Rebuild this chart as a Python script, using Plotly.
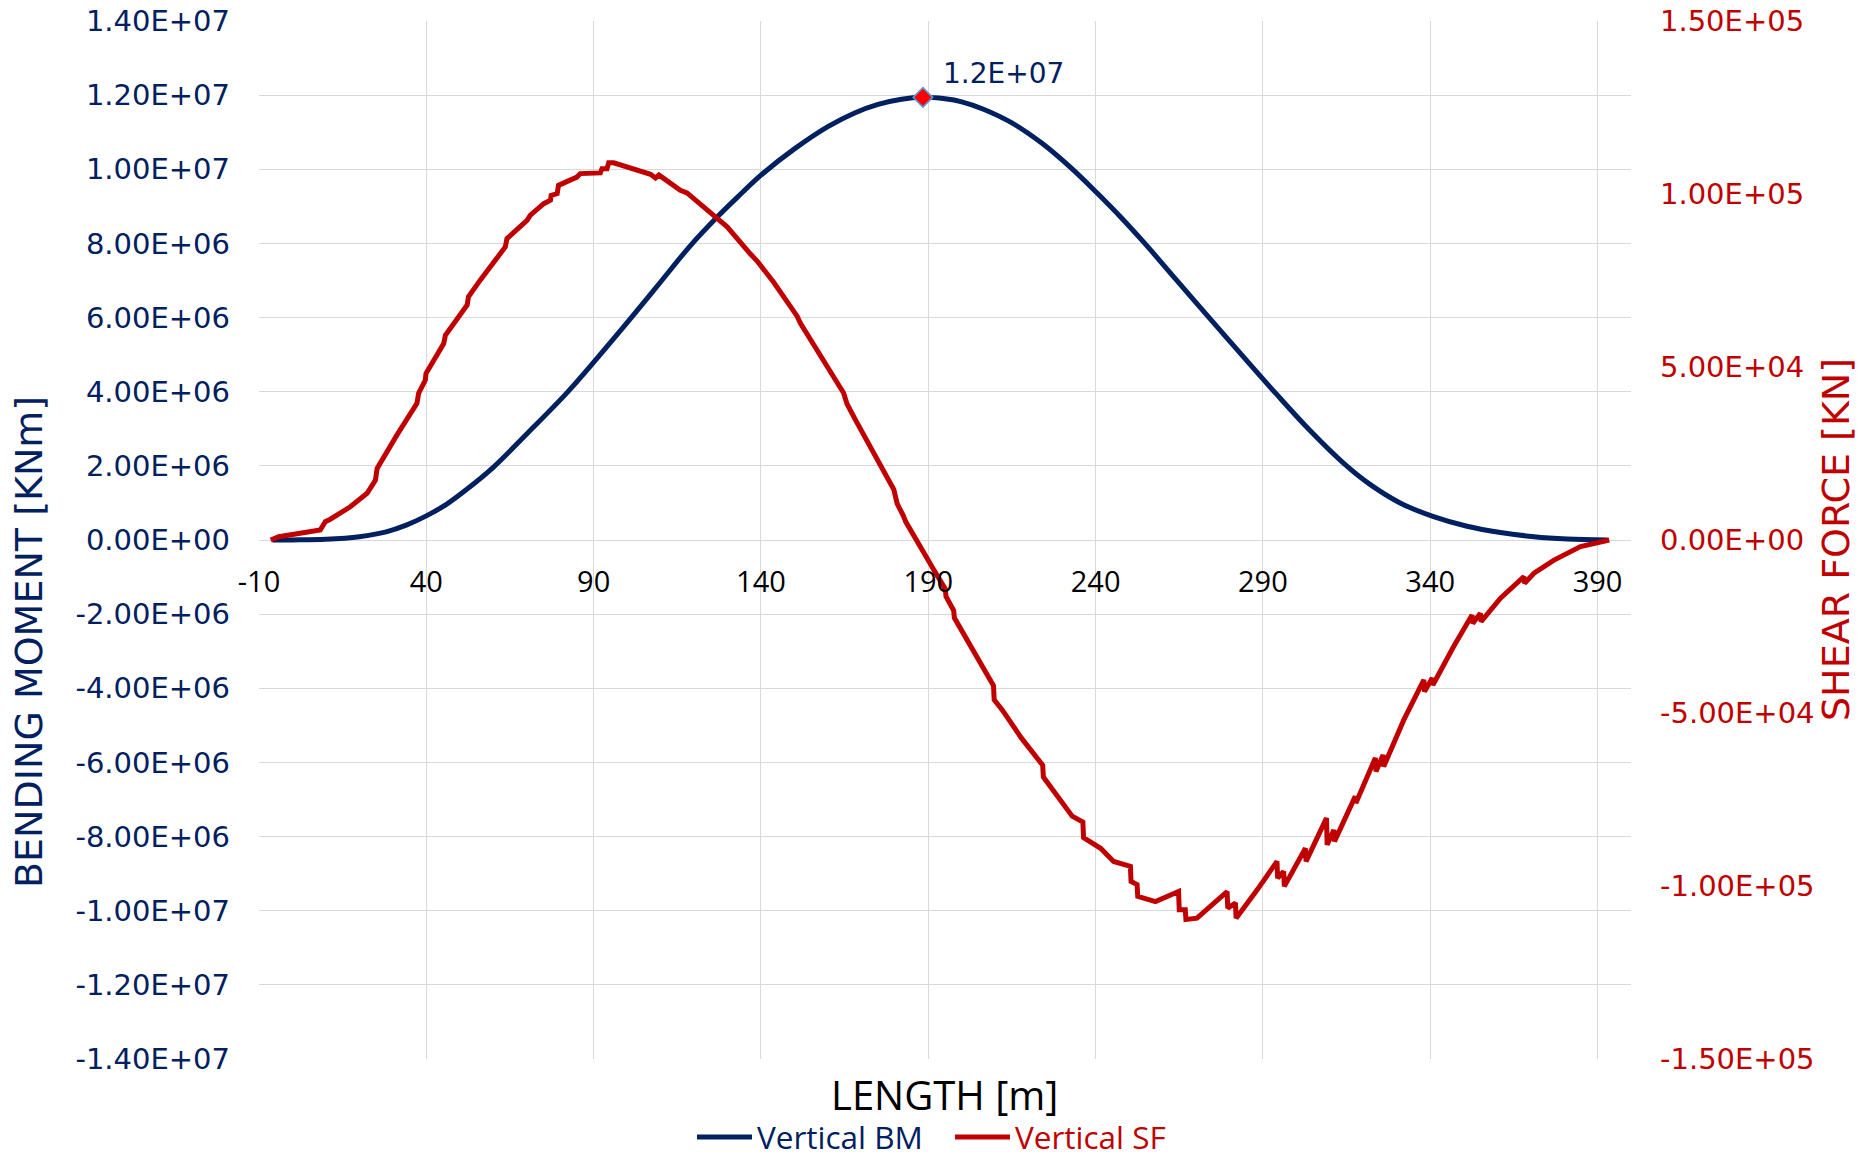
import plotly.graph_objects as go

# ---------------- data ----------------
# Vertical bending moment [kNm] along the length [m]
bm_x = [-6, 0, 10, 20, 28, 34, 40, 46, 52, 60, 70, 82, 91, 101, 110, 119, 127, 133,
        140.5, 150, 160, 168, 175, 182, 188.4, 195, 200, 206.5, 215, 224, 232.5, 240,
        247.4, 254.7, 264, 274.9, 284, 294, 304, 314.5, 322, 331, 341, 351, 361, 371,
        381, 393]
bm_y = [0, 0.003e6, 0.02e6, 0.09e6, 0.22e6, 0.4e6, 0.65e6, 0.96e6, 1.36e6, 1.96e6,
        2.86e6, 3.97e6, 4.9e6, 5.97e6, 6.96e6, 7.95e6, 8.72e6, 9.25e6, 9.88e6, 10.55e6,
        11.15e6, 11.52e6, 11.75e6, 11.89e6, 11.94e6, 11.9e6, 11.82e6, 11.62e6, 11.25e6,
        10.7e6, 10.05e6, 9.4e6, 8.72e6, 8.0e6, 7.03e6, 5.9e6, 4.96e6, 3.94e6, 2.96e6,
        2.04e6, 1.5e6, 1.0e6, 0.63e6, 0.37e6, 0.2e6, 0.09e6, 0.03e6, 0]

# Vertical shear force [kN] along the length [m]
sf_x = [-6.5, -4.1, 8.3, 9.8, 11.3, 17.3, 22.3, 24.8, 25.3, 30.7, 31.2, 37.2, 37.7,
        39.7, 39.9, 45.2, 45.7, 52.2, 52.6, 56.1, 63.6, 64.1, 70.1, 71.1, 75.1, 77.1,
        77.3, 79.1, 79.5, 85.0, 86.0, 92.0, 92.5, 94.0, 94.5, 96.0, 107.0, 108.5,
        109.5, 110.5, 115.9, 117.9, 123.9, 129.9, 136.8, 138.8, 143.8, 150.8, 151.8,
        164.7, 165.7, 168.2, 179.7, 180.7, 182.6, 183.2, 191.6, 195.1, 195.3, 197.6,
        197.8, 209.5, 209.7, 212.1, 217.8, 223.5, 224.2, 224.4, 229.5, 233.0, 236.2,
        236.4, 241.5, 245.4, 250.4, 250.6, 252.4, 252.6, 257.9, 264.8, 265.0, 266.8,
        267.0, 270.3, 279.3, 279.5, 281.8, 282.0, 288.3, 294.2, 294.4, 296.2, 296.4,
        302.7, 302.9, 309.0, 309.2, 311.2, 311.4, 317.6, 317.8, 323.6, 323.8, 325.9,
        326.1, 332.1, 338.1, 338.3, 340.6, 340.8, 347.0, 352.5, 352.7, 355.0, 355.2,
        361.0, 368.0, 368.2, 371.0, 377.0, 384.9, 393.5]
sf_y = [0, 950, 2900, 5300, 6000, 9600, 13500, 17300, 20700, 28900, 30300, 39500, 42400,
        46200, 48100, 56800, 59200, 67900, 70300, 75100, 84700, 87100, 92400, 93900,
        97200, 98200, 99600, 100100, 102500, 104900, 105900, 106100, 107300, 107300,
        109000, 109000, 105700, 104600, 105500, 104800, 101100, 100300, 95600, 90500,
        82700, 80700, 74500, 64700, 62600, 42500, 39400, 34800, 14600, 10500, 6900, 5400,
        -8500, -14200, -16300, -20400, -22500, -42100, -46200, -49100, -57200, -64400,
        -65100, -68500, -75400, -79800, -81500, -86000, -89100, -92900, -94300, -98700,
        -99600, -103000, -104500, -101600, -106900, -106900, -109700, -109300, -101600,
        -106400, -104900, -109300, -101100, -92900, -97700, -95800, -100100, -89100,
        -92900, -80400, -88100, -83800, -87100, -74100, -76000, -63000, -66900, -62100,
        -65500, -52000, -40400, -43800, -39900, -41900, -30800, -21700, -24100, -21200,
        -23600, -16800, -10600, -12500, -9600, -5800, -1900, 0]

# axis ticks
x_ticks = [-10, 40, 90, 140, 190, 240, 290, 340, 390]
bm_ticks = [-1.4e7, -1.2e7, -1.0e7, -8e6, -6e6, -4e6, -2e6, 0, 2e6, 4e6, 6e6, 8e6,
            1.0e7, 1.2e7, 1.4e7]
sf_ticks = [-1.5e5, -1.0e5, -5e4, 0, 5e4, 1.0e5, 1.5e5]
bm_tick_text = [f"{v:.2E}" for v in bm_ticks]
sf_tick_text = [f"{v:.2E}" for v in sf_ticks]

# ---------------- styling ----------------
NAVY = "#002060"
RED = "#C00000"
GRID = "#D9D9D9"
W, H = 1860, 1159
ML, MR, MT, MB = 259, 229, 21, 100
PW, PH = W - ML - MR, H - MT - MB


def px2paper_x(px):
    return (px - ML) / PW


def px2paper_y(py):
    return 1 - (py - MT) / PH


fig = go.Figure()

fig.add_trace(go.Scatter(
    x=bm_x, y=bm_y, mode="lines", yaxis="y",
    name=f"<span style='color:{NAVY}'>Vertical BM</span>",
    line=dict(color=NAVY, width=5, shape="spline", smoothing=1.0),
))
fig.add_trace(go.Scatter(
    x=sf_x, y=sf_y, mode="lines", yaxis="y2",
    name=f"<span style='color:{RED}'>Vertical SF</span>",
    line=dict(color=RED, width=5),
))

# peak marker of the bending moment
i_max = max(range(len(bm_y)), key=lambda i: bm_y[i])
fig.add_trace(go.Scatter(
    x=[bm_x[i_max]], y=[bm_y[i_max]], mode="markers", yaxis="y", showlegend=False,
    marker=dict(symbol="diamond", size=15, color="#FF0000",
                line=dict(color="#5B9BD5", width=1.5)),
))

fig.add_annotation(
    x=bm_x[i_max], y=bm_y[i_max], xref="x", yref="y",
    text=f"{bm_y[i_max]:.1E}", showarrow=False,
    xshift=81, yshift=24, xanchor="center", yanchor="middle",
    font=dict(family="DejaVu Sans", size=28, color=NAVY),
)

# axis titles
fig.add_annotation(
    x=px2paper_x(944), y=px2paper_y(1094), xref="paper", yref="paper",
    text="LENGTH [m]", showarrow=False, xanchor="center", yanchor="middle",
    font=dict(family="Open Sans", size=40, color="#000000"),
)
fig.add_annotation(
    x=px2paper_x(29), y=px2paper_y(642), xref="paper", yref="paper",
    text="BENDING MOMENT [KNm]", showarrow=False, textangle=-90,
    xanchor="center", yanchor="middle",
    font=dict(family="DejaVu Sans", size=38, color=NAVY),
)
fig.add_annotation(
    x=px2paper_x(1836), y=px2paper_y(540), xref="paper", yref="paper",
    text="SHEAR FORCE [KN]", showarrow=False, textangle=-90,
    xanchor="center", yanchor="middle",
    font=dict(family="DejaVu Sans", size=38, color=RED),
)

fig.update_layout(
    template="none",
    width=W, height=H,
    margin=dict(l=ML, r=MR, t=MT, b=MB, pad=0, autoexpand=False),
    paper_bgcolor="white", plot_bgcolor="white",
    showlegend=True,
    legend=dict(
        orientation="h", x=px2paper_x(692), xanchor="left",
        y=px2paper_y(1137), yanchor="middle",
        font=dict(family="Open Sans", size=31.5),
        itemwidth=55, entrywidth=188, entrywidthmode="pixels",
        bgcolor="rgba(0,0,0,0)", borderwidth=0,
    ),
    xaxis=dict(
        range=[-10, 400], tickvals=x_ticks, ticktext=[str(v) for v in x_ticks],
        anchor="free", position=0.5, showline=False, zeroline=False,
        showgrid=True, gridcolor=GRID, gridwidth=1,
        ticks="", ticklabelstandoff=22, automargin=False,
        tickfont=dict(family="Open Sans", size=29, color="#000000"),
    ),
    yaxis=dict(
        range=[-1.4e7, 1.4e7], tickvals=bm_ticks, ticktext=bm_tick_text,
        showline=False, zeroline=False, showgrid=True, gridcolor=GRID, gridwidth=1,
        ticks="", ticklabelstandoff=28, automargin=False,
        tickfont=dict(family="DejaVu Sans", size=29, color=NAVY),
    ),
    yaxis2=dict(
        range=[-1.5e5, 1.5e5], tickvals=sf_ticks, ticktext=sf_tick_text,
        overlaying="y", side="right", anchor="x",
        showline=False, zeroline=False, showgrid=False,
        ticks="", ticklabelstandoff=28, automargin=False,
        tickfont=dict(family="DejaVu Sans", size=29, color=RED),
    ),
)

fig.write_html(
    "out.html",
    config={"displayModeBar": False},
    post_script="document.body.style.margin='0';document.body.style.overflow='hidden';",
)
